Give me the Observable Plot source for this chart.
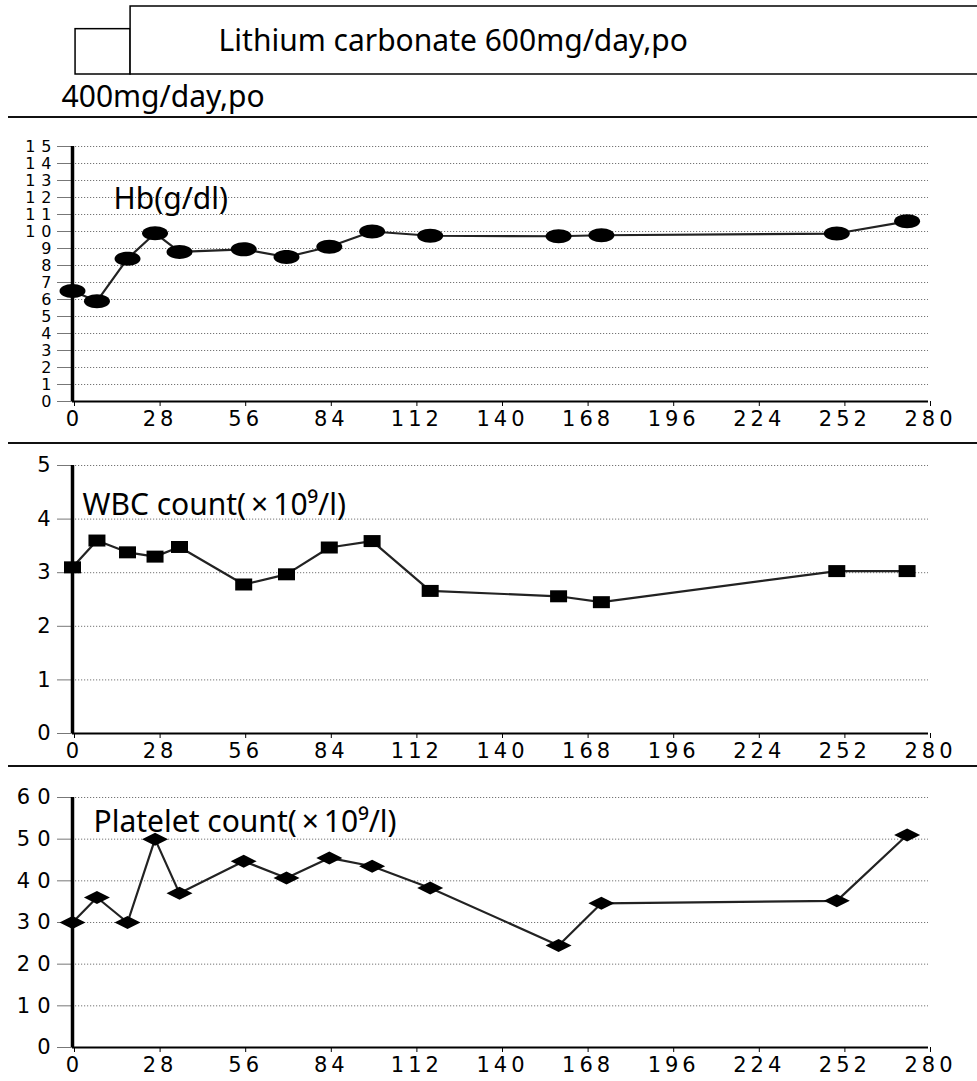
<!DOCTYPE html>
<html>
<head>
<meta charset="utf-8">
<script src="https://cdn.jsdelivr.net/npm/d3@7"></script>
<script src="https://cdn.jsdelivr.net/npm/@observablehq/plot@0.6"></script>
<style>
  html, body { margin: 0; padding: 0; background: white; overflow: hidden; }
  #wrap { width: 977px; height: 1081px; overflow: hidden; }
  .sep { height: 0; border-top: 2px solid #111; margin-left: 8px; }
  svg { display: block; overflow: hidden; }
  .panel g[aria-label="x-axis tick label"] { letter-spacing: 4px; }
  .panel g[aria-label="x-axis tick label"] text { font-size: 21px !important; }
  .panel g[aria-label="y-axis tick label"] { letter-spacing: 7px; }
  .panel g[aria-label="y-axis tick label"] text { font-size: 21px !important; }
  .hbpanel g[aria-label="y-axis tick label"] { letter-spacing: 6px; }
  .hbpanel g[aria-label="y-axis tick label"] text { font-size: 16px !important; }
</style>
</head>
<body>
<div id="wrap"></div>
<script>
// ---- data ----
const regimenLabels = ["400mg/day,po", "Lithium carbonate 600mg/day,po"];
const regimenStart = [1, 19];
const regimenEnd = [19, 299];
const regimenDose = [400, 600];

const days = [0, 8, 18, 27, 35, 56, 70, 84, 98, 117, 159, 173, 250, 273];
const hb  = [6.5, 5.9, 8.4, 9.9, 8.8, 8.95, 8.5, 9.1, 10.0, 9.75, 9.72, 9.78, 9.88, 10.6];
const wbc = [3.1, 3.6, 3.38, 3.3, 3.48, 2.78, 2.97, 3.47, 3.59, 2.66, 2.56, 2.45, 3.03, 3.03];
const plt = [30, 36, 30, 50, 37, 44.7, 40.7, 45.5, 43.5, 38.3, 24.5, 34.6, 35.2, 51];

const xTicks = [0, 28, 56, 84, 112, 140, 168, 196, 224, 252, 280];
const hbTicks = [0,1,2,3,4,5,6,7,8,9,10,11,12,13,14,15];
const wbcTicks = [0,1,2,3,4,5];
const pltTicks = [0,10,20,30,40,50,60];

const hbLabel = "Hb(g/dl)";
const wbcLabel = "WBC count(\u2009×\u200910⁹/l)";
const pltLabel = "Platelet count(\u2009×\u200910⁹/l)";

// ---- custom marker shapes ----
const ellipseSym = {draw(ctx) {
  const a = 13, b = 7, k = 0.5523;
  ctx.moveTo(a, 0);
  ctx.bezierCurveTo(a, b*k, a*k, b, 0, b);
  ctx.bezierCurveTo(-a*k, b, -a, b*k, -a, 0);
  ctx.bezierCurveTo(-a, -b*k, -a*k, -b, 0, -b);
  ctx.bezierCurveTo(a*k, -b, a, -b*k, a, 0);
  ctx.closePath();
}};
const rectSym = {draw(ctx) { ctx.rect(-8.5, -6, 17, 12); }};
const diamondSym = {draw(ctx) {
  ctx.moveTo(-13, 0); ctx.lineTo(0, -6.5); ctx.lineTo(13, 0); ctx.lineTo(0, 6.5); ctx.closePath();
}};

const wrap = document.getElementById("wrap");
const labelFont = "Noto Sans";
const labelSize = 30;

// ---- header: treatment bars ----
const regimens = regimenLabels.map((label, i) => ({label, start: regimenStart[i], end: regimenEnd[i], dose: regimenDose[i]}));
const header = Plot.plot({
  width: 977, height: 116, marginLeft: 72, marginRight: 49, marginTop: 6, marginBottom: 42,
  style: {fontFamily: labelFont, background: "white", color: "black"},
  x: {domain: [0, 280], axis: null},
  y: {domain: [0, 600], axis: null},
  marks: [
    Plot.rect(regimens, {x1: "start", x2: "end", y1: 0, y2: "dose", fill: "white", stroke: "black", strokeWidth: 1.5}),
    Plot.text(regimens.slice(1), {x: "start", y: d => d.dose / 2, text: "label", textAnchor: "start", dx: 88, dy: 1, fontSize: labelSize}),
    Plot.text(regimens.slice(0, 1), {x: "start", y: 0, text: "label", textAnchor: "start", dx: -14, dy: 23, fontSize: labelSize})
  ]
});
wrap.appendChild(header);

function sep() { const d = document.createElement("div"); d.className = "sep"; wrap.appendChild(d); }

function panel({values, yTicks, yMax, label, symbol, height, marginTop, marginBottom, dx, dy, cls}) {
  const data = days.map((d, i) => ({day: d, v: values[i]}));
  const svg = Plot.plot({
    width: 977, height, marginLeft: 72, marginRight: 49, marginTop, marginBottom,
    style: {fontFamily: "DejaVu Sans", background: "white", color: "black"},
    x: {domain: [0, 280], label: null},
    y: {domain: [0, yMax], label: null},
    marks: [
      Plot.gridY(yTicks.filter(t => t > 0), {stroke: "#666", strokeOpacity: 0.9, strokeDasharray: "1.2,1.8", strokeWidth: 1}),
      Plot.axisX({ticks: xTicks, tickFormat: d => String(d), tickSize: 5, tickPadding: 5, label: null, stroke: "black", dx: 2}),
      Plot.axisY({ticks: yTicks, tickFormat: d => String(d), tickSize: 15, tickPadding: 0, label: null, stroke: "#777", fill: "black"}),
      Plot.ruleY([0], {stroke: "black", strokeWidth: 2}),
      Plot.ruleX([0], {y1: 0, y2: yMax, stroke: "black", strokeWidth: 3.5}),
      Plot.line(data, {x: "day", y: "v", stroke: "#222", strokeWidth: 2.2}),
      Plot.dot(data, {x: "day", y: "v", symbol, fill: "black", r: 6}),
      Plot.text([label], {frameAnchor: "top-left", text: d => d, dx, dy, textAnchor: "start", lineAnchor: "middle", fontSize: labelSize, fontFamily: labelFont})
    ]
  });
  svg.classList.add("panel");
  if (cls) svg.classList.add(cls);
  return svg;
}

sep();
wrap.appendChild(panel({values: hb, yTicks: hbTicks, yMax: 15, label: hbLabel, symbol: ellipseSym,
  height: 324, marginTop: 28, marginBottom: 41, dx: 41, dy: 53, cls: "hbpanel"}));
sep();
wrap.appendChild(panel({values: wbc, yTicks: wbcTicks, yMax: 5, label: wbcLabel, symbol: rectSym,
  height: 321, marginTop: 21, marginBottom: 32, dx: 10, dy: 40}));
sep();
wrap.appendChild(panel({values: plt, yTicks: pltTicks, yMax: 60, label: pltLabel, symbol: diamondSym,
  height: 314, marginTop: 30, marginBottom: 34, dx: 21, dy: 25}));
</script>
</body>
</html>
